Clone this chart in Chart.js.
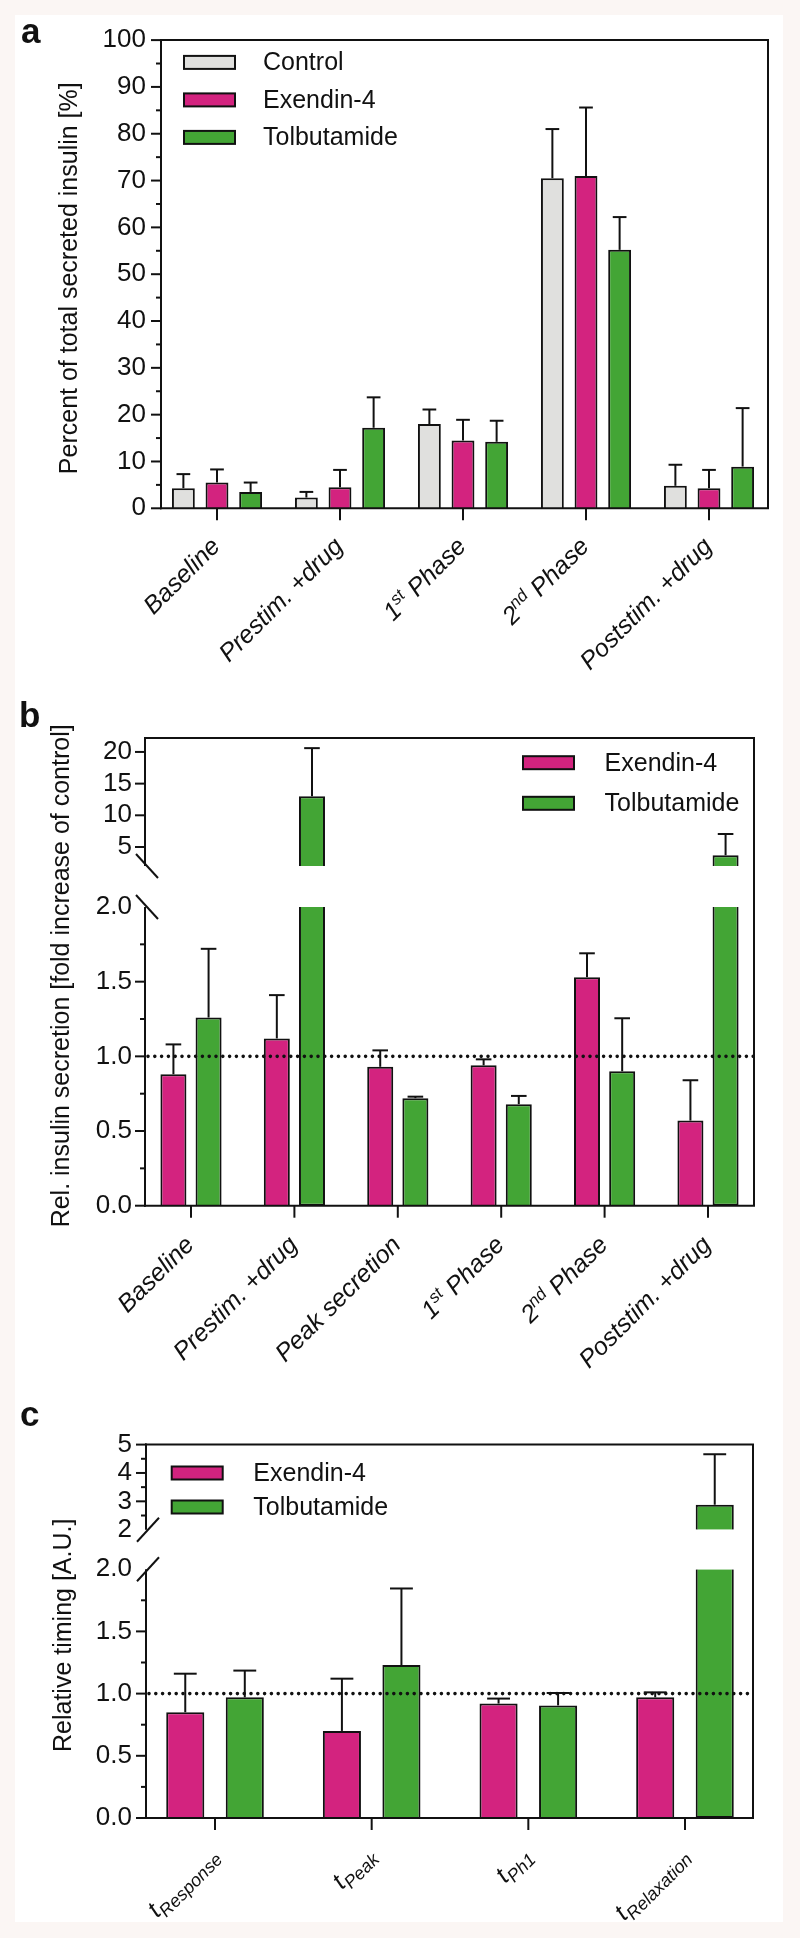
<!DOCTYPE html>
<html>
<head>
<meta charset="utf-8">
<script src="https://cdn.jsdelivr.net/npm/chart.js@4.4.1/dist/chart.umd.min.js"></script>
<style>
  html, body { margin: 0; padding: 0; }
  body { width: 800px; height: 1938px; background: #fbf6f4; position: relative; overflow: hidden; }
  #sheet { position: absolute; left: 15px; top: 15px; width: 768px; height: 1907px; background: #fff; }
  canvas { position: absolute; left: 0; }
</style>
</head>
<body>
<div id="sheet">
  <canvas id="chartA" width="768" height="680" style="top:0px"></canvas>
  <canvas id="chartB" width="768" height="690" style="top:680px"></canvas>
  <canvas id="chartC" width="768" height="537" style="top:1370px"></canvas>
</div>
<script>
// ---- data (sd = upper whisker length) ----
// a: percent of total secreted insulin
const labelsA = ['Baseline', 'Prestim. +drug', '1^st^ Phase', '2^nd^ Phase', 'Poststim. +drug'];
const controlA = [4.3, 2.3, 18.0, 70.5, 4.8];
const controlSdA = [3.0, 1.2, 3.1, 10.5, 4.5];
const exendinA = [5.5, 4.5, 14.5, 71.0, 4.3];
const exendinSdA = [2.8, 3.7, 4.4, 14.6, 3.9];
const tolbA = [3.5, 17.2, 14.2, 55.2, 8.9];
const tolbSdA = [2.0, 6.5, 4.5, 7.0, 12.5];
const ticksA = [0, 5, 10, 15, 20, 25, 30, 35, 40, 45, 50, 55, 60, 65, 70, 75, 80, 85, 90, 95, 100];
const tickLabelsA = [0, 10, 20, 30, 40, 50, 60, 70, 80, 90, 100];

// b: relative insulin secretion (fold of control)
const labelsB = ['Baseline', 'Prestim. +drug', 'Peak secretion', '1^st^ Phase', '2^nd^ Phase', 'Poststim. +drug'];
const exendinB = [0.88, 1.12, 0.93, 0.94, 1.53, 0.57];
const exendinSdB = [0.20, 0.29, 0.11, 0.04, 0.16, 0.27];
const tolbB = [1.26, 13.0, 0.72, 0.68, 0.90, 3.7];
const tolbSdB = [0.46, 7.6, 0.01, 0.055, 0.355, 3.35];
const ticksUpB = [5, 10, 15, 20];

// c: relative timing
const labelsC = ['t_Response_', 't_Peak_', 't_Ph1_', 't_Relaxation_'];
const exendinC = [0.85, 0.70, 0.92, 0.97];
const exendinSdC = [0.31, 0.42, 0.04, 0.04];
const tolbC = [0.97, 1.23, 0.905, 2.88];
const tolbSdC = [0.215, 0.615, 0.10, 1.78];
const ticksUpC = [2, 2.5, 3, 3.5, 4, 4.5, 5];
const tickLabelsUpC = [2, 3, 4, 5];

// lower segment of b and c
const ticksLow = [0, 0.25, 0.5, 0.75, 1, 1.25, 1.5, 1.75, 2];
const tickLabelsLow = [0, 0.5, 1, 1.5, 2];

const GREY = '#e0e0de';
const MAGENTA = '#d3237f';
const GREEN = '#43a535';
const INK = '#111111';
const FONT = "'Liberation Sans', Arial, Helvetica, sans-serif";

// ---- helpers ----
function seg(ctx, x1, y1, x2, y2) {
  ctx.beginPath();
  ctx.moveTo(x1, y1);
  ctx.lineTo(x2, y2);
  ctx.stroke();
}

// '^..^' = superscript, '_.._' = subscript
function richParts(s) {
  return s.split(/(\^[^^]+\^|_[^_]+_)/).filter(p => p).map(p => {
    if (p[0] === '^') return {text: p.slice(1, -1), kind: 'sup'};
    if (p[0] === '_') return {text: p.slice(1, -1), kind: 'sub'};
    return {text: p, kind: 'norm'};
  });
}
const plainLabel = s => s.replace(/[\^_]/g, '');

function drawLabel(ctx, s, x, y, cfg) {
  const parts = richParts(s);
  const fontFor = k => 'italic ' + (k === 'norm' ? 25 : k === 'sup' ? 17 : cfg.subSize || 18) + 'px ' + FONT;
  let total = 0;
  parts.forEach(p => { ctx.font = fontFor(p.kind); p.w = ctx.measureText(p.text).width; total += p.w; });
  ctx.save();
  ctx.translate(x, y);
  ctx.rotate(-Math.PI / 4);
  ctx.textAlign = 'left';
  ctx.textBaseline = 'alphabetic';
  let cx = -total;
  parts.forEach(p => {
    ctx.font = fontFor(p.kind);
    const dy = p.kind === 'sup' ? -9 : p.kind === 'sub' ? 6 : 0;
    ctx.fillText(p.text, cx, 9 + dy);
    cx += p.w;
  });
  ctx.restore();
}

// axes, error bars, legend and labels in the GraphPad look
function panelDecor(cfg) {
  return {
    id: 'decor' + cfg.letter,
    afterDatasetsDraw(chart) {
      const ctx = chart.ctx;
      const area = chart.chartArea;
      const xs = chart.scales.x, low = chart.scales.y, up = chart.scales.yUp;
      const L = area.left + cfg.insetL, R = area.right - cfg.insetR, T = area.top, B = area.bottom;
      ctx.save();
      ctx.strokeStyle = INK;
      ctx.fillStyle = INK;
      ctx.lineWidth = 2;

      // error bars (upper whisker only)
      cfg.series.forEach((s, i) => {
        const meta = chart.getDatasetMeta(i);
        s.values.forEach((v, j) => {
          const bar = meta.data[j];
          const sc = up && v > cfg.lowMax ? up : low;
          const y0 = sc.getPixelForValue(v), y1 = sc.getPixelForValue(v + s.sd[j]);
          const half = bar.width * 0.3;
          seg(ctx, bar.x, y0, bar.x, y1);
          seg(ctx, bar.x - half, y1, bar.x + half, y1);
        });
      });

      // dotted reference line
      if (cfg.refLine !== undefined) {
        const y = low.getPixelForValue(cfg.refLine);
        ctx.save();
        ctx.setLineDash([0, 6.8]);
        ctx.lineCap = 'round';
        ctx.lineWidth = 3.6;
        seg(ctx, L + 3, y, R, y);
        ctx.restore();
      }

      // frame
      seg(ctx, L - 1, T, R + 1, T);
      seg(ctx, R, T, R, B);
      seg(ctx, L - 1, B, R + 1, B);
      if (up) {
        seg(ctx, L, T - 1, L, up.bottom);
        seg(ctx, L, low.top, L, B + 1);
        [up.bottom, low.top].forEach(yb => {
          seg(ctx, L - 9, yb - 12 * cfg.slash, L + 13, yb + 12 * cfg.slash);
        });
      } else {
        seg(ctx, L, T - 1, L, B + 1);
      }

      // y tick marks
      const marks = (sc, vals, majors) => vals.forEach(v => {
        if (up && ((sc === up && v === sc.min) || (sc === low && v === sc.max))) return;
        const y = sc.getPixelForValue(v);
        seg(ctx, L - (majors.includes(v) ? 10 : 5), y, L, y);
      });
      marks(low, cfg.lowTicks, cfg.lowMajor);
      if (up) marks(up, cfg.upTicks, cfg.upMajor);

      // x ticks and rotated labels
      cfg.labels.forEach((s, i) => {
        const x = xs.getPixelForTick(i);
        seg(ctx, x, B, x, B + 12);
        drawLabel(ctx, s, x + cfg.labelDx, B + cfg.labelDy, cfg);
      });

      // legend
      ctx.font = '25px ' + FONT;
      ctx.textAlign = 'left';
      ctx.textBaseline = 'middle';
      cfg.series.forEach((s, i) => {
        const yc = T + cfg.legend.y + i * cfg.legend.dy;
        const bx = L + cfg.legend.x;
        ctx.fillStyle = s.color;
        ctx.fillRect(bx, yc - 6.5, 51, 13);
        ctx.strokeRect(bx, yc - 6.5, 51, 13);
        ctx.fillStyle = INK;
        ctx.fillText(s.label, L + cfg.legend.textX, yc + 1);
      });

      // axis title
      ctx.save();
      ctx.translate(L - cfg.titleDx, (T + B) / 2 + 4);
      ctx.rotate(-Math.PI / 2);
      ctx.textAlign = 'center';
      ctx.textBaseline = 'middle';
      ctx.font = '25px ' + FONT;
      ctx.fillText(cfg.title, 0, 0);
      ctx.restore();

      // panel letter
      ctx.font = 'bold 35px ' + FONT;
      ctx.textAlign = 'left';
      ctx.textBaseline = 'alphabetic';
      ctx.fillText(cfg.letter, cfg.letterX, cfg.letterY);
      ctx.restore();
    }
  };
}

function buildChart(id, cfg) {
  const canvas = document.getElementById(id);
  const W = 120;
  const broken = !!cfg.up;
  const pad = {
    left: cfg.area.left - W,
    right: canvas.width - cfg.area.right,
    top: cfg.area.top,
    bottom: canvas.height - cfg.area.bottom
  };
  const fixWidth = s => { s.width = W; };
  const yScale = (min, max, vals, majors, fmt, extra) => Object.assign({
    type: 'linear', position: 'left', min: min, max: max, stacked: false,
    afterFit: fixWidth,
    afterBuildTicks: s => { s.ticks = vals.map(v => ({value: v})); },
    grid: {display: false, drawTicks: false},
    border: {display: false},
    ticks: {
      autoSkip: false, padding: cfg.tickPad, color: INK,
      font: {family: FONT, size: 26},
      callback: v => majors.includes(v) ? fmt(v) : ''
    }
  }, extra);

  const datasets = [];
  cfg.series.forEach(s => datasets.push({
    label: s.label,
    data: broken ? s.values.map(v => Math.min(v, cfg.lowMax)) : s.values,
    yAxisID: 'y', stack: s.label,
    backgroundColor: s.color, borderColor: INK, borderWidth: 2,
    borderSkipped: c => (broken && s.values[c.dataIndex] > cfg.lowMax) ? 'end' : 'start',
    barPercentage: cfg.barPct, categoryPercentage: cfg.catPct
  }));
  if (broken) {
    cfg.series.forEach(s => datasets.push({
      label: s.label + ' (upper)',
      data: s.values.map(v => v > cfg.lowMax ? v : null),
      yAxisID: 'yUp', stack: s.label, base: cfg.up.min,
      backgroundColor: s.color, borderColor: INK, borderWidth: 2,
      barPercentage: cfg.barPct, categoryPercentage: cfg.catPct
    }));
  }

  const scales = {
    x: {type: 'category', display: false, stacked: true, grid: {display: false}},
    y: yScale(0, cfg.lowMax, cfg.lowTicks, cfg.lowMajor, cfg.lowFmt,
      broken ? {stack: 'v', stackWeight: cfg.heights[2], weight: 0} : {})
  };
  if (broken) {
    scales.yGap = {type: 'linear', position: 'left', display: false, stack: 'v',
      stackWeight: cfg.heights[1], weight: 1, afterFit: fixWidth};
    scales.yUp = yScale(cfg.up.min, cfg.up.max, cfg.upTicks, cfg.upMajor, v => String(v),
      {stack: 'v', stackWeight: cfg.heights[0], weight: 2});
  }

  return new Chart(canvas, {
    type: 'bar',
    data: {labels: cfg.labels.map(plainLabel), datasets: datasets},
    options: {
      responsive: false,
      animation: false,
      devicePixelRatio: 1,
      layout: {padding: pad},
      plugins: {legend: {display: false}, tooltip: {enabled: false}},
      scales: scales
    },
    plugins: [panelDecor(cfg)]
  });
}

buildChart('chartA', {
  letter: 'a', letterX: 6, letterY: 28,
  labels: labelsA,
  series: [
    {label: 'Control', color: GREY, values: controlA, sd: controlSdA},
    {label: 'Exendin-4', color: MAGENTA, values: exendinA, sd: exendinSdA},
    {label: 'Tolbutamide', color: GREEN, values: tolbA, sd: tolbSdA}
  ],
  title: 'Percent of total secreted insulin [%]', titleDx: 91,
  lowMax: 100, lowTicks: ticksA, lowMajor: tickLabelsA, lowFmt: v => String(v),
  area: {left: 140.5, right: 755.5, top: 25, bottom: 493.3}, insetL: 5.5, insetR: 2.5,
  tickPad: 9.5, catPct: 0.82, barPct: 0.68,
  legend: {x: 23, y: 22.3, dy: 37.5, textX: 102},
  labelDx: -2, labelDy: 33
});

buildChart('chartB', {
  letter: 'b', letterX: 4, letterY: 32,
  labels: labelsB,
  series: [
    {label: 'Exendin-4', color: MAGENTA, values: exendinB, sd: exendinSdB},
    {label: 'Tolbutamide', color: GREEN, values: tolbB, sd: tolbSdB}
  ],
  title: 'Rel. insulin secretion [fold increase of control]', titleDx: 82.5,
  lowMax: 2, lowTicks: ticksLow, lowMajor: tickLabelsLow, lowFmt: v => v.toFixed(1),
  up: {min: 2, max: 22.2}, upTicks: ticksUpB, upMajor: ticksUpB,
  heights: [128, 41, 298.7], refLine: 1, slash: 1,
  area: {left: 124.3, right: 744.7, top: 43, bottom: 510.7}, insetL: 5.7, insetR: 5.7,
  tickPad: 7.3, catPct: 0.68, barPct: 0.74,
  legend: {x: 378, y: 24.7, dy: 40.6, textX: 459.6},
  labelDx: -2, labelDy: 34
});

buildChart('chartC', {
  letter: 'c', letterX: 5, letterY: 41,
  labels: labelsC,
  series: [
    {label: 'Exendin-4', color: MAGENTA, values: exendinC, sd: exendinSdC},
    {label: 'Tolbutamide', color: GREEN, values: tolbC, sd: tolbSdC}
  ],
  title: 'Relative timing [A.U.]', titleDx: 82,
  lowMax: 2, lowTicks: ticksLow, lowMajor: tickLabelsLow, lowFmt: v => v.toFixed(1),
  up: {min: 2, max: 5}, upTicks: ticksUpC, upMajor: tickLabelsUpC,
  heights: [85.1, 39.5, 248.8], refLine: 1, slash: -1,
  area: {left: 121.7, right: 748.3, top: 59.6, bottom: 433}, insetL: 9.3, insetR: 10.3,
  tickPad: 4.7, catPct: 0.76, barPct: 0.64,
  legend: {x: 25.7, y: 28.4, dy: 34, textX: 107.3},
  labelDx: -2, labelDy: 32, subSize: 18
});
</script>
</body>
</html>
